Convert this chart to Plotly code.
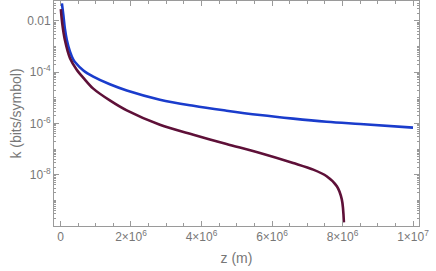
import plotly.graph_objects as go

# Blue series (z in m, log10 k)
z_blue = [0.04e6, 0.08e6, 0.125e6, 0.18e6, 0.27e6, 0.36e6, 0.41e6, 0.65e6, 0.93e6, 1.40e6,
          1.88e6, 2.82e6, 3.77e6, 4.71e6, 5.66e6, 6.60e6, 7.55e6, 8.50e6, 10.0e6]
logk_blue = [-1.31, -1.75, -2.30, -2.74, -3.20, -3.50, -3.60, -3.93, -4.17, -4.47,
             -4.71, -5.07, -5.31, -5.50, -5.67, -5.81, -5.93, -6.02, -6.16]

# Maroon series
z_red = [0.01e6, 0.05e6, 0.125e6, 0.27e6, 0.46e6, 0.65e6, 0.93e6, 1.40e6, 1.88e6, 2.82e6,
         3.77e6, 4.71e6, 5.66e6, 6.60e6, 7.17e6, 7.55e6, 7.84e6, 7.98e6, 8.04e6]
logk_red = [-1.54, -2.10, -2.74, -3.45, -3.90, -4.22, -4.64, -5.10, -5.49, -6.05,
            -6.44, -6.80, -7.15, -7.54, -7.80, -8.06, -8.45, -8.96, -9.86]

x_tickvals = [0, 2e6, 4e6, 6e6, 8e6, 1e7]
x_ticktext = ["0", "2\u00d710<sup>6</sup>", "4\u00d710<sup>6</sup>", "6\u00d710<sup>6</sup>",
              "8\u00d710<sup>6</sup>", "1\u00d710<sup>7</sup>"]
y_tickvals = [1e-2, 1e-4, 1e-6, 1e-8]
y_ticktext = ["0.01", "10<sup>-4</sup>", "10<sup>-6</sup>", "10<sup>-8</sup>"]

k_blue = [10 ** v for v in logk_blue]
k_red = [10 ** v for v in logk_red]

fig = go.Figure()
fig.add_trace(go.Scatter(x=z_blue, y=k_blue, mode="lines",
                         line=dict(color="#1a3ccc", width=2.6, shape="spline", smoothing=1.0)))
fig.add_trace(go.Scatter(x=z_red, y=k_red, mode="lines",
                         line=dict(color="#5e1038", width=2.6, shape="spline", smoothing=0.9)))

gray = "#9a9a9a"
txt = "#777777"
minor_y = []
for d in range(-10, -1):
    for m in range(2, 10):
        minor_y.append(m * 10 ** d)
minor_y += [10 ** d for d in (-9, -7, -5, -3)]

fig.update_layout(
    width=436, height=271,
    margin=dict(l=54, r=17, t=1, b=45),
    plot_bgcolor="white", paper_bgcolor="white",
    showlegend=False,
    font=dict(family="Liberation Sans, Arial", color=txt, size=12),
    xaxis=dict(
        range=[-0.184e6, 1.017e7], showgrid=False, zeroline=False, automargin=False,
        showline=True, linecolor=gray, linewidth=1, mirror="ticks",
        ticks="inside", ticklen=5, tickcolor=gray,
        tickmode="array", tickvals=x_tickvals, ticktext=x_ticktext,
        minor=dict(ticks="inside", ticklen=3, tickcolor=gray, tickmode="linear", tick0=0, dtick=0.5e6),
        title=dict(text="z (m)", font=dict(size=14, color=txt), standoff=9),
        tickfont=dict(size=12, color=txt),
    ),
    yaxis=dict(
        type="log", range=[-10, -1.22], showgrid=False, zeroline=False, automargin=False,
        showline=True, linecolor=gray, linewidth=1, mirror="ticks",
        ticks="inside", ticklen=5, tickcolor=gray,
        tickmode="array", tickvals=y_tickvals, ticktext=y_ticktext,
        minor=dict(ticks="inside", ticklen=2, tickcolor=gray, tickmode="array", tickvals=minor_y),
        title=dict(text="k (bits/symbol)", font=dict(size=14, color=txt), standoff=2),
        tickfont=dict(size=12, color=txt),
    ),
)
fig.write_html("out.html", config={"displayModeBar": False},
               post_script="document.body.style.margin='0';document.body.style.overflow='hidden';")
